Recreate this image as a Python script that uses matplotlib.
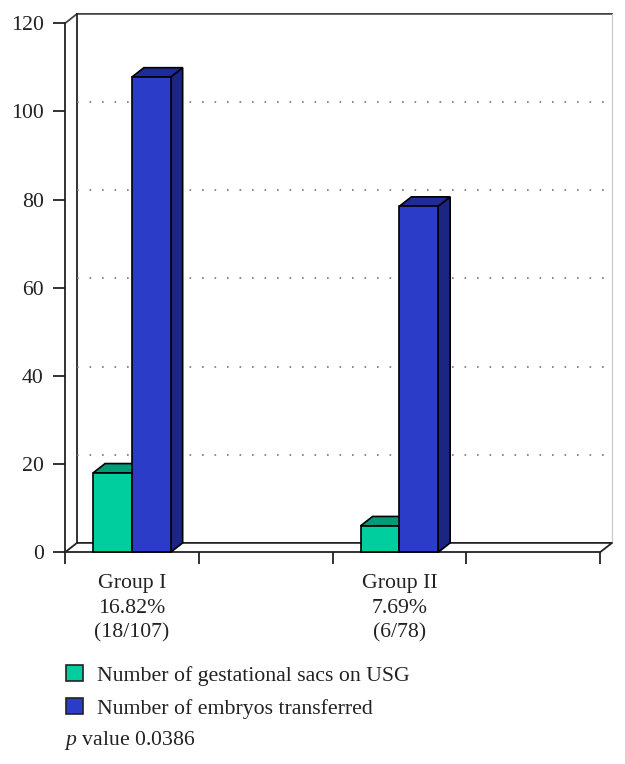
#!/usr/bin/env python3
import matplotlib
matplotlib.use('Agg')
import matplotlib.pyplot as plt
from matplotlib.patches import Polygon, Patch

plt.rcParams['font.family'] = ['Liberation Serif', 'DejaVu Serif']
plt.rcParams['mathtext.fontset'] = 'custom'
plt.rcParams['mathtext.it'] = 'Liberation Serif:italic'

categories = ['Group I\n16.82%\n(18/107)', '', 'Group II\n7.69%\n(6/78)', '']
sacs = [18, None, 6, None]
embryos = [107.8, None, 78.5, None]
yticks = [0, 20, 40, 60, 80, 100, 120]
sacs_label = 'Number of gestational sacs on USG'
embryos_label = 'Number of embryos transferred'
p_text = r'$\mathit{p}$ value 0.0386'

W, H = 625, 764
green, green_top = '#00CE9E', '#009A78'
blue, blue_top, blue_side = '#2B3CC8', '#1F2B96', '#1B2583'
line = '#222222'

fig = plt.figure(figsize=(W / 100, H / 100), dpi=100)
ax = fig.add_axes([65 / W, 1 - 552.3 / H, 535 / W, 529 / H])
ax.set_xlim(-0.5, 3.5)
ax.set_ylim(0, 120)

# depth of the fake 3d box, in data units
px_x = 535 / 4
px_y = 529 / 120
dx = 12 / px_x
dy = 9.4 / px_y
bar_w = 0.29


def box(x, val, front, top, side):
    ax.add_patch(Polygon([(x + bar_w, 0), (x + bar_w + dx, dy), (x + bar_w + dx, val + dy), (x + bar_w, val)],
                         fc=side, ec='black', lw=1.2, clip_on=False, zorder=3))
    ax.add_patch(Polygon([(x, val), (x + dx, val + dy), (x + bar_w + dx, val + dy), (x + bar_w, val)],
                         fc=top, ec='black', lw=1.2, clip_on=False, zorder=3))
    ax.bar(x, val, bar_w, align='edge', color=front, edgecolor='black', linewidth=1.2, zorder=4, clip_on=False)


# back wall and floor
ax.plot([-0.5, -0.5 + dx, 3.5 + dx], [120, 120 + dy, 120 + dy], color='#444444', lw=1.3, clip_on=False, zorder=1)
ax.plot([-0.5 + dx, -0.5 + dx], [dy, 120 + dy], color=line, lw=1.3, clip_on=False, zorder=1)
ax.plot([3.5 + dx, 3.5 + dx], [dy, 120 + dy], color='#c8c8c8', lw=0.8, clip_on=False, zorder=1)
ax.plot([-0.5, -0.5 + dx, 3.5 + dx, 3.5], [0, dy, dy, 0], color=line, lw=1.3, clip_on=False, zorder=1)

for t in yticks[1:-1]:
    ax.plot([-0.5 + dx, 3.5 + dx], [t + dy, t + dy], color='#777777', lw=1.2,
            dashes=(1, 6.5), clip_on=False, zorder=1)

for i in range(len(categories)):
    if sacs[i] is None:
        continue
    box(i - bar_w, sacs[i], green, green_top, green_top)
    box(i, embryos[i], blue, blue_top, blue_side)

for s in ['top', 'right']:
    ax.spines[s].set_visible(False)
for s in ['left', 'bottom']:
    ax.spines[s].set_color(line)
    ax.spines[s].set_linewidth(1.3)

ax.set_yticks(yticks)
ax.tick_params(axis='y', length=8.6, width=1.3, color=line, labelsize=15.7, pad=6.7, labelcolor='#222222')
ax.set_xticks(range(len(categories)))
ax.set_xticklabels(categories, fontsize=15.7, color='#222222', linespacing=1.42)
ax.tick_params(axis='x', which='major', length=0, pad=15.5)
ax.set_xticks([-0.5, 0.5, 1.5, 2.5, 3.5], minor=True)
ax.tick_params(axis='x', which='minor', length=8.6, width=1.3, color=line)

handles = [Patch(fc=green, ec='#222222', lw=1.2, label=sacs_label),
           Patch(fc=blue, ec='#222222', lw=1.2, label=embryos_label)]
fig.legend(handles=handles, loc='upper left', bbox_to_anchor=(59.5 / W, 1 - 658.5 / H), frameon=False,
           fontsize=15.7, handlelength=0.78, handleheight=0.78, handletextpad=0.64, labelspacing=0.56,
           labelcolor='#222222', borderpad=0.3, borderaxespad=0)
fig.text(64 / W, 1 - 740 / H, p_text, fontsize=15.7, color='#222222', va='center', ha='left')

fig.savefig('out.png', dpi=100, facecolor='white')
